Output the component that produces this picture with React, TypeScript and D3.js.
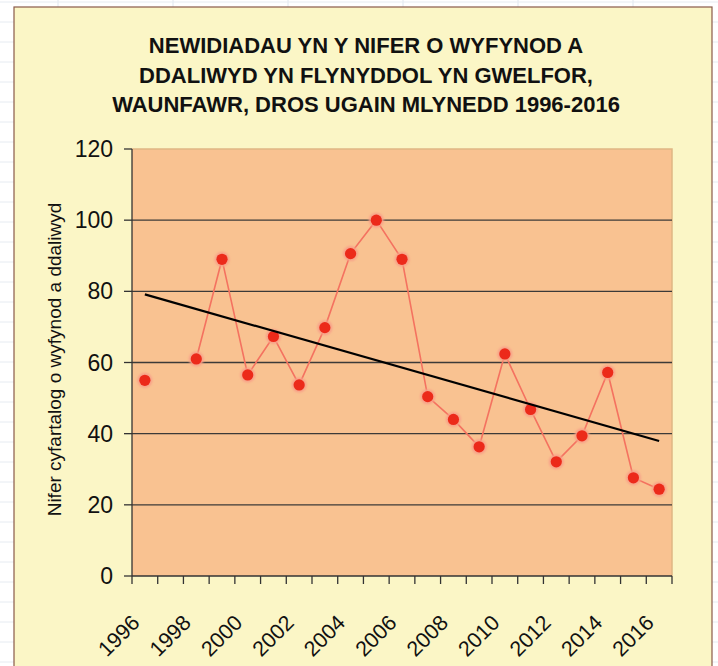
import { useMemo } from 'react'
import * as d3 from 'd3'

const years = d3.range(1996, 2017).map(String)
// average moths caught per year (1997 has no record)
const counts: (number | null)[] = [
  55, null, 61, 89, 56.5, 67.3, 53.7, 69.8, 90.6, 100,
  89, 50.4, 44, 36.3, 62.4, 46.8, 32.1, 39.4, 57.2, 27.6, 24.4,
]
const yTicks = [0, 20, 40, 60, 80, 100, 120]
const xLabels = years.filter((_, i) => i % 2 === 0)
const titleLines = [
  'NEWIDIADAU YN Y NIFER O WYFYNOD A',
  'DDALIWYD YN FLYNYDDOL YN GWELFOR,',
  'WAUNFAWR, DROS UGAIN MLYNEDD 1996-2016',
]
const yTitle = 'Nifer cyfartalog o wyfynod a ddaliwyd'

const W = 718
const H = 666
const margin = { top: 149, right: 46, bottom: 90, left: 132 }
const FONT = 'Arial, "Liberation Sans", Helvetica, sans-serif'

export default function App() {
  const innerW = W - margin.left - margin.right
  const innerH = H - margin.top - margin.bottom

  const x = d3.scaleBand<string>().domain(years).range([0, innerW])
  const y = d3.scaleLinear().domain([0, 120]).range([innerH, 0])
  const cx = (yr: string) => (x(yr) ?? 0) + x.bandwidth() / 2

  const pts = years
    .map((yr, i) => ({ yr, i, v: counts[i] }))
    .filter(d => d.v != null) as { yr: string; i: number; v: number }[]

  const line = d3
    .line<{ yr: string; v: number | null }>()
    .defined(d => d.v != null)
    .x(d => cx(d.yr))
    .y(d => y(d.v as number))

  // linear trend (least squares on category index)
  const trend = useMemo(() => {
    const mx = d3.mean(pts, d => d.i) as number
    const my = d3.mean(pts, d => d.v) as number
    const sxy = d3.sum(pts, d => (d.i - mx) * (d.v - my))
    const sxx = d3.sum(pts, d => (d.i - mx) ** 2)
    const slope = sxy / sxx
    const b = my - slope * mx
    const last = years.length - 1
    return [
      { yr: years[0], v: b },
      { yr: years[last], v: b + slope * last },
    ]
  }, [])

  const series = years.map((yr, i) => ({ yr, v: counts[i] }))

  return (
    <svg
      width={W}
      height={H}
      style={{ position: 'absolute', left: 0, top: 0, fontFamily: FONT }}
    >
      <defs>
        <filter id="soft" x="-50%" y="-50%" width="200%" height="200%">
          <feGaussianBlur stdDeviation="0.9" />
        </filter>
      </defs>
      <rect width={W} height={H} fill="#ffffff" />
      {/* faint spreadsheet cells behind the chart */}
      {d3.range(58, W, 115).map(gx => (
        <line key={'gx' + gx} x1={gx} x2={gx} y1={0} y2={H} stroke="#dfe6ee" />
      ))}
      {d3.range(2, H, 20).map(gy => (
        <line key={'gy' + gy} x1={0} x2={W} y1={gy} y2={gy} stroke="#e6ebf1" />
      ))}
      <rect x={14} y={7} width={698} height={H} fill="#fbf6c6" stroke="#8a5a4a" strokeWidth={1.2} />

      <g fill="#111" fontWeight="bold" fontSize={22} textAnchor="middle">
        {titleLines.map((t, i) => (
          <text key={t} x={366} y={53 + i * 29.5}>{t}</text>
        ))}
      </g>

      <text
        transform={`translate(61,${margin.top + innerH / 2 - 3}) rotate(-90)`}
        textAnchor="middle"
        fontSize={19}
        fill="#111"
      >
        {yTitle}
      </text>

      <g transform={`translate(${margin.left},${margin.top})`}>
        <rect width={innerW} height={innerH} fill="#f9c291" />
        <path
          d={`M0,0H${innerW}V${innerH}`}
          fill="none"
          stroke="#e0b684"
          strokeWidth={1.5}
        />
        {yTicks.filter(t => t > 0 && t < 120).map(t => (
          <line key={t} x1={0} x2={innerW} y1={y(t)} y2={y(t)} stroke="#3c3a38" strokeWidth={1.3} />
        ))}

        {/* y axis */}
        <line x1={0} x2={0} y1={0} y2={innerH} stroke="#333" strokeWidth={1.3} />
        {yTicks.map(t => (
          <g key={t} transform={`translate(0,${y(t)})`}>
            <line x1={-8} x2={0} stroke="#333" strokeWidth={1.3} />
            <text x={-19} dy="0.35em" textAnchor="end" fontSize={23} fill="#111">
              {t}
            </text>
          </g>
        ))}

        {/* x axis */}
        <line x1={0} x2={innerW} y1={innerH} y2={innerH} stroke="#333" strokeWidth={1.3} />
        {[...years.map(yr => x(yr) ?? 0), innerW].map((tx, i) => (
          <line key={i} x1={tx} x2={tx} y1={innerH} y2={innerH + 8} stroke="#333" strokeWidth={1.3} />
        ))}
        {xLabels.map(yr => (
          <text
            key={yr}
            transform={`translate(${cx(yr) - 4},${innerH + 48}) rotate(-45)`}
            textAnchor="end"
            fontSize={21.5}
            fill="#111"
          >
            {yr}
          </text>
        ))}

        <path d={line(series) ?? ''} fill="none" stroke="#f47260" strokeWidth={1.6} />
        {pts.map(d => (
          <g key={d.yr}>
            <circle cx={cx(d.yr)} cy={y(d.v)} r={7.5} fill="#f8a088" filter="url(#soft)" />
            <circle cx={cx(d.yr)} cy={y(d.v)} r={5.6} fill="#ec2a1a" />
          </g>
        ))}
        <path d={line(trend) ?? ''} fill="none" stroke="#000" strokeWidth={2.2} />
      </g>
    </svg>
  )
}
